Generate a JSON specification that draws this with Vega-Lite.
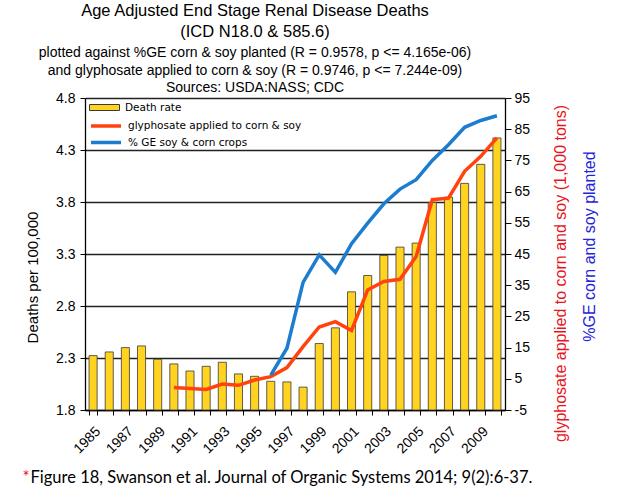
{
  "$schema": "https://vega.github.io/schema/vega-lite/v6.json",
  "width": 420,
  "height": 312,
  "autosize": {"type": "none"},
  "padding": {"left": 85, "top": 98, "right": 129, "bottom": 89},
  "background": "white",
  "config": {
    "font": "Liberation Sans",
    "view": {"stroke": null},
    "axis": {"labelColor": "#000", "titleColor": "#000", "domainColor": "#000", "tickColor": "#000", "titleFontWeight": "normal", "labelFont": "Liberation Sans", "titleFont": "Liberation Sans"},
    "legend": {"title": null, "padding": 0, "labelFont": "DejaVu Sans", "labelFontSize": 10.5, "labelColor": "#000", "labelLimit": 0, "symbolSize": 900, "labelOffset": 5, "rowPadding": 0, "symbolOpacity": 1}
  },
  "title": {
    "text": ["Age Adjusted End Stage Renal Disease Deaths", "(ICD N18.0 & 585.6)"],
    "subtitle": ["plotted against %GE corn & soy planted (R = 0.9578, p <= 4.165e-06)", "and glyphosate applied to corn & soy (R = 0.9746, p <= 7.244e-09)", "Sources: USDA:NASS; CDC"],
    "font": "Liberation Sans",
    "fontSize": 16.5,
    "fontWeight": "normal",
    "lineHeight": 21,
    "subtitleFont": "Liberation Sans",
    "subtitleFontSize": 14,
    "subtitleLineHeight": 17.5,
    "subtitleColor": "#000",
    "subtitlePadding": 6,
    "color": "#000",
    "anchor": "middle",
    "dx": -40,
    "offset": -4
  },
  "data": {
    "values": [
      {"year": 1985, "death": 2.323, "gly": null, "ge": null},
      {"year": 1986, "death": 2.358, "gly": null, "ge": null},
      {"year": 1987, "death": 2.400, "gly": null, "ge": null},
      {"year": 1988, "death": 2.416, "gly": null, "ge": null},
      {"year": 1989, "death": 2.288, "gly": null, "ge": null},
      {"year": 1990, "death": 2.243, "gly": 2.2, "ge": null},
      {"year": 1991, "death": 2.175, "gly": 1.9, "ge": null},
      {"year": 1992, "death": 2.220, "gly": 1.6, "ge": null},
      {"year": 1993, "death": 2.259, "gly": 3.3, "ge": null},
      {"year": 1994, "death": 2.147, "gly": 2.9, "ge": null},
      {"year": 1995, "death": 2.124, "gly": 4.6, "ge": null},
      {"year": 1996, "death": 2.076, "gly": 5.7, "ge": 6.2},
      {"year": 1997, "death": 2.070, "gly": 8.6, "ge": 14.8},
      {"year": 1998, "death": 2.020, "gly": 15.3, "ge": 35.9},
      {"year": 1999, "death": 2.439, "gly": 21.6, "ge": 44.7},
      {"year": 2000, "death": 2.590, "gly": 23.3, "ge": 39.1},
      {"year": 2001, "death": 2.936, "gly": 20.5, "ge": 48.3},
      {"year": 2002, "death": 3.093, "gly": 33.5, "ge": 54.9},
      {"year": 2003, "death": 3.286, "gly": 36.2, "ge": 61.1},
      {"year": 2004, "death": 3.366, "gly": 36.9, "ge": 65.8},
      {"year": 2005, "death": 3.405, "gly": 44.2, "ge": 68.8},
      {"year": 2006, "death": 3.796, "gly": 62.4, "ge": 75.0},
      {"year": 2007, "death": 3.847, "gly": 62.9, "ge": 80.0},
      {"year": 2008, "death": 3.979, "gly": 71.5, "ge": 85.6},
      {"year": 2009, "death": 4.162, "gly": 76.3, "ge": 87.8},
      {"year": 2010, "death": 4.416, "gly": 82.2, "ge": 89.3}
    ]
  },
  "encoding": {
    "x": {
      "field": "year",
      "type": "ordinal",
      "scale": {"paddingInner": 0.5, "paddingOuter": 0.25}
    }
  },
  "layer": [
    {
      "mark": {"type": "bar", "stroke": "#3a3a3a", "strokeWidth": 0.8},
      "encoding": {
        "x": {
          "field": "year",
          "type": "ordinal",
          "axis": {
            "orient": "bottom",
            "tickBand": "extent",
            "tickSize": 5,
            "labelAngle": -45,
            "labelFontSize": 14,
            "labelPadding": 9,
            "labelExpr": "datum.value % 2 == 1 ? datum.label : ''",
            "domainWidth": 1.3,
            "title": "Figure 18, Swanson et al. Journal of Organic Systems 2014; 9(2):6-37.",
            "titleFont": "Lato",
            "titleFontSize": 16.5,
            "titleX": -55,
            "titleY": 72,
            "titleAlign": "left",
            "titleBaseline": "alphabetic",
            "titleAnchor": "start"
          }
        },
        "y": {
          "field": "death",
          "type": "quantitative",
          "scale": {"domain": [1.8, 4.8], "zero": false, "nice": false},
          "axis": {
            "orient": "left",
            "values": [1.8, 2.3, 2.8, 3.3, 3.8, 4.3, 4.8],
            "format": ".1f",
            "grid": true,
            "gridColor": "#222",
            "gridWidth": 1.3,
            "gridOpacity": 1,
            "tickSize": 5,
            "labelPadding": 5,
            "labelFontSize": 14,
            "domainWidth": 1.3,
            "title": "Deaths per 100,000",
            "titleFontSize": 15,
            "titleX": -53,
            "titleY": 179,
            "titleBaseline": "middle",
            "titleAngle": 270
          }
        },
        "y2": {"datum": 1.8},
        "color": {
          "datum": "Death rate",
          "scale": {"domain": ["Death rate"], "range": ["#FFD320"]},
          "legend": {
            "orient": "none",
            "legendX": 4,
            "legendY": -6,
            "symbolType": "M-1,-0.2H1V0.2H-1Z",
            "symbolStrokeColor": "#3a3a3a",
            "symbolStrokeWidth": 1
          }
        }
      }
    },
    {
      "mark": {"type": "line", "strokeWidth": 3.5},
      "encoding": {
        "x": {
          "field": "year",
          "type": "ordinal",
          "axis": {
            "orient": "bottom",
            "labels": false,
            "ticks": false,
            "domain": false,
            "grid": false,
            "title": "*",
            "titleColor": "#E8141C",
            "titleFont": "Lato",
            "titleFontSize": 16.5,
            "titleX": -63,
            "titleY": 72,
            "titleAlign": "left",
            "titleBaseline": "alphabetic",
            "titleAnchor": "start"
          }
        },
        "y": {
          "field": "gly",
          "type": "quantitative",
          "scale": {"domain": [-5, 95], "zero": false, "nice": false},
          "axis": {
            "orient": "right",
            "values": [-5, 5, 15, 25, 35, 45, 55, 65, 75, 85, 95],
            "labelExpr": "datum.value < 0 ? '-' + abs(datum.value) : datum.label",
            "grid": false,
            "tickSize": 6,
            "labelPadding": 3,
            "labelFontSize": 14,
            "domainWidth": 1.3,
            "title": "glyphosate applied to corn and soy (1,000 tons)",
            "titleColor": "#E8141C",
            "titleFontSize": 16,
            "titleX": 55,
            "titleY": 175,
            "titleBaseline": "middle",
            "titleAngle": 270
          }
        },
        "color": {
          "datum": "glyphosate applied to corn & soy",
          "scale": {"domain": ["glyphosate applied to corn & soy"], "range": ["#FF420E"]},
          "legend": {"orient": "none", "legendX": 4, "legendY": 11, "symbolType": "stroke", "symbolStrokeWidth": 3.5}
        }
      }
    },
    {
      "mark": {"type": "line", "strokeWidth": 3.5},
      "encoding": {
        "x": {"field": "year", "type": "ordinal", "axis": null},
        "y": {
          "field": "ge",
          "type": "quantitative",
          "scale": {"domain": [-5, 95], "zero": false, "nice": false},
          "axis": {
            "orient": "right",
            "labels": false,
            "ticks": false,
            "domain": false,
            "grid": false,
            "title": "%GE corn and soy planted",
            "titleColor": "#2424DC",
            "titleFontSize": 16,
            "titleX": 84,
            "titleY": 148,
            "titleBaseline": "middle",
            "titleAngle": 270
          }
        },
        "color": {
          "datum": "% GE soy & corn crops",
          "scale": {"domain": ["% GE soy & corn crops"], "range": ["#1C7CD0"]},
          "legend": {"orient": "none", "legendX": 4, "legendY": 27.5, "symbolType": "stroke", "symbolStrokeWidth": 3.5}
        }
      }
    }
  ],
  "resolve": {"scale": {"y": "independent", "color": "independent"}, "axis": {"x": "independent"}}
}
